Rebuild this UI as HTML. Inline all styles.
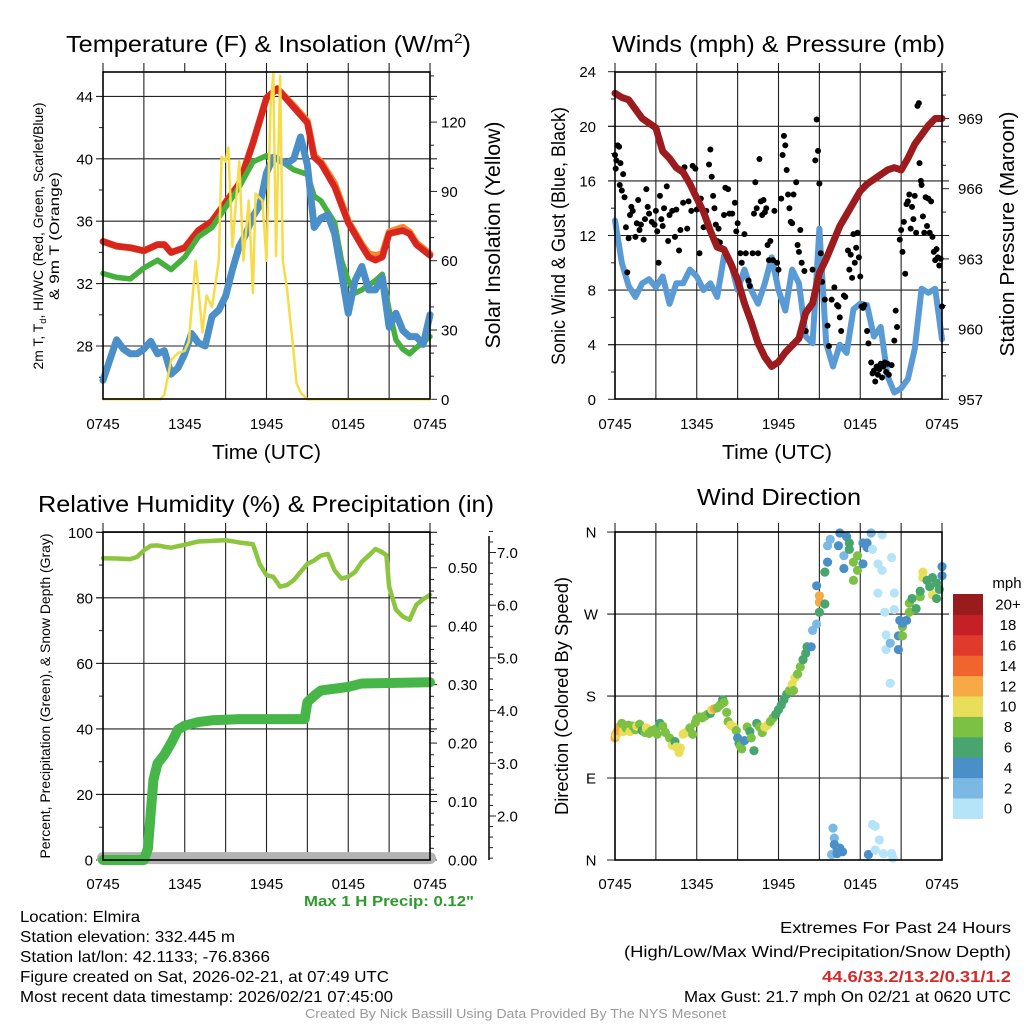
<!DOCTYPE html>
<html><head><meta charset="utf-8"><style>
html,body{margin:0;padding:0;background:#fff;}
svg{display:block;font-family:"Liberation Sans",sans-serif;}
</style></head><body>
<svg id="fig" width="1024" height="1024" viewBox="0 0 1024 1024" xmlns="http://www.w3.org/2000/svg">
<rect width="1024" height="1024" fill="#fff"/>
<g id="layer"></g>
<!-- titles -->
<text x="66" y="52" font-size="23" textLength="405" lengthAdjust="spacingAndGlyphs">Temperature (F) &amp; Insolation (W/m<tspan dy="-9" font-size="14">2</tspan><tspan dy="9">)</tspan></text>
<text x="612" y="52" font-size="23" textLength="333" lengthAdjust="spacingAndGlyphs">Winds (mph) &amp; Pressure (mb)</text>
<text x="38" y="512" font-size="23" textLength="456" lengthAdjust="spacingAndGlyphs">Relative Humidity (%) &amp; Precipitation (in)</text>
<text x="697" y="505" font-size="23" textLength="164" lengthAdjust="spacingAndGlyphs">Wind Direction</text>
<text x="212" y="459" font-size="20" textLength="109" lengthAdjust="spacingAndGlyphs">Time (UTC)</text>
<text x="722" y="459" font-size="20" textLength="110" lengthAdjust="spacingAndGlyphs">Time (UTC)</text>
<!-- y titles -->
<text transform="translate(43,236) rotate(-90)" text-anchor="middle" font-size="13.5" textLength="267" lengthAdjust="spacingAndGlyphs">2m T, T<tspan font-size="9" dy="3">d</tspan><tspan dy="-3">, HI/WC (Red, Green, Scarlet/Blue)</tspan></text>
<text transform="translate(59,236) rotate(-90)" text-anchor="middle" font-size="13.5" textLength="128" lengthAdjust="spacingAndGlyphs">&amp; 9m T (Orange)</text>
<text transform="translate(500,235) rotate(-90)" text-anchor="middle" font-size="21" textLength="227" lengthAdjust="spacingAndGlyphs">Solar Insolation (Yellow)</text>
<text transform="translate(565,236) rotate(-90)" text-anchor="middle" font-size="19" textLength="258" lengthAdjust="spacingAndGlyphs">Sonic Wind &amp; Gust (Blue, Black)</text>
<text transform="translate(1014,234) rotate(-90)" text-anchor="middle" font-size="20" textLength="245" lengthAdjust="spacingAndGlyphs">Station Pressure (Maroon)</text>
<text transform="translate(50,696) rotate(-90)" text-anchor="middle" font-size="14" textLength="325" lengthAdjust="spacingAndGlyphs">Percent, Precipitation (Green), &amp; Snow Depth (Gray)</text>
<text transform="translate(568,696) rotate(-90)" text-anchor="middle" font-size="18" textLength="238" lengthAdjust="spacingAndGlyphs">Direction (Colored By Speed)</text>
<!-- footer -->
<text x="304" y="906" font-size="15" font-weight="bold" fill="#2e9a2e" textLength="170" lengthAdjust="spacingAndGlyphs">Max 1 H Precip: 0.12"</text>
<g font-size="16">
<text x="20" y="922" textLength="120" lengthAdjust="spacingAndGlyphs">Location: Elmira</text>
<text x="20" y="942" textLength="215" lengthAdjust="spacingAndGlyphs">Station elevation: 332.445 m</text>
<text x="20" y="962" textLength="250" lengthAdjust="spacingAndGlyphs">Station lat/lon: 42.1133; -76.8366</text>
<text x="20" y="982" textLength="369" lengthAdjust="spacingAndGlyphs">Figure created on Sat, 2026-02-21, at 07:49 UTC</text>
<text x="20" y="1002" textLength="373" lengthAdjust="spacingAndGlyphs">Most recent data timestamp: 2026/02/21 07:45:00</text>
</g>
<g font-size="16">
<text x="780" y="933" textLength="231" lengthAdjust="spacingAndGlyphs">Extremes For Past 24 Hours</text>
<text x="624" y="957" textLength="387" lengthAdjust="spacingAndGlyphs">(High/Low/Max Wind/Precipitation/Snow Depth)</text>
<text x="822" y="982" font-weight="bold" fill="#d42a2a" textLength="189" lengthAdjust="spacingAndGlyphs">44.6/33.2/13.2/0.31/1.2</text>
<text x="684" y="1002" textLength="327" lengthAdjust="spacingAndGlyphs">Max Gust: 21.7 mph On 02/21 at 0620 UTC</text>
</g>
<text x="305" y="1018" font-size="13" fill="#999" textLength="421" lengthAdjust="spacingAndGlyphs">Created By Nick Bassill Using Data Provided By The NYS Mesonet</text>
</svg>
<script>
// ---------- data ----------
const xTickLabels = ["0745","1345","1945","0145","0745"];
const tempTicks = [28,32,36,40,44];
const insTicks = [0,30,60,90,120];
const tRed = [0,1,2,3,4,4.5,5,6,7,8,8.5,9,10,11,12,12.8,13,14,15,15.5,16,17,18,19,19.5,20,20.5,21,22,22.5,23,24];
const redTemp = [34.7,34.4,34.3,34.1,34.5,34.5,34.0,34.3,35.4,36.0,36.6,37.2,38.4,41.0,43.9,44.5,44.3,43.3,42.3,40.1,39.7,38.2,35.9,34.4,33.7,33.5,33.7,35.2,35.4,35.2,34.5,33.8];
const orangeTemp = [34.7,34.4,34.3,34.1,34.5,34.5,34.0,34.3,35.4,36.0,36.6,37.2,38.4,41.0,43.9,44.5,44.3,43.4,42.4,40.2,39.8,38.4,36.0,34.5,33.9,33.8,33.9,35.3,35.6,35.3,34.6,33.9];
const tGreen = [0,1,2,3,4,5,6,7,8,9,10,11,12,13,14,15,15.5,16,17,17.5,18,18.5,19,20,20.5,21,21.5,22,22.5,23,24];
const greenDew = [32.65,32.4,32.3,33.0,33.5,32.9,33.7,35.0,35.6,36.9,38.2,39.8,40.2,39.9,39.3,39.0,37.6,37.3,35.9,33.5,32.2,31.4,31.6,32.2,32.6,30.3,28.4,27.8,27.5,27.9,28.6];
const blueChill = [25.8,27.1,28.4,27.8,27.5,27.5,27.8,28.3,27.5,27.7,26.2,26.6,27.5,28.8,28.2,28.0,29.9,30.3,31.2,32.9,34.4,35.2,36.3,37.0,39.1,40.1,39.9,39.7,40.0,41.4,39.6,35.6,36.2,36.4,35.2,32.7,30.1,32.2,33.1,31.6,31.6,32.4,29.2,30.1,29.0,28.6,28.6,28.1,30.0];
const tIns = [0,4.2,4.5,5,5.5,6,6.3,6.8,7,7.3,7.6,8,8.5,8.7,9,9.2,9.5,10,10.3,10.7,11,11.2,11.7,12,12.3,12.5,12.7,13,13.2,13.5,14,14.2,14.5,15,24];
const insolation = [0,0,2,17,20,21,25,60,48,29,45,40,60,105,103,109,66,103,60,86,46,89,86,60,127,141,62,140,60,48,20,7,3,0,0];

const windTicks = [0,4,8,12,16,20,24];
const presTicks = [957,960,963,966,969];
const pressure = [970.08,969.9,969.8,969.4,969.0,968.8,968.6,967.6,967.3,966.9,966.7,966.2,965.6,965.0,964.2,963.5,963.4,962.8,962.1,961.1,960.3,959.4,958.8,958.4,958.6,959.0,959.3,959.6,960.7,961.1,962.4,963.0,963.7,964.4,964.9,965.4,965.9,966.2,966.4,966.6,966.8,966.9,966.8,967.3,967.9,968.3,968.7,969.0,969.0];
const windSpeed = [13.1,10.0,8.3,7.5,8.5,8.8,8.2,9.0,7.0,8.5,8.5,9.5,9.0,8.0,8.5,7.5,10.5,10.0,8.0,9.5,8.0,7.0,8.5,10.4,8.0,6.5,9.5,8.5,4.6,4.1,12.5,4.1,2.4,4.0,3.4,6.6,7.0,6.9,4.6,5.3,1.7,0.5,0.8,1.5,3.7,8.1,7.8,8.1,4.4];
const gustT = [0,0.05,0.1,0.2,0.3,0.35,0.4,0.5,0.6,0.7,0.8,0.9,1.0,1.1,1.2,1.3,1.5,1.6,1.7,1.8,1.9,2.1,2.2,2.3,2.4,2.5,2.7,2.9,3.0,3.1,3.2,3.3,3.4,3.5,3.6,3.8,3.9,4.0,4.2,4.4,4.5,4.7,4.8,5.0,5.1,5.3,5.4,5.6,5.7,5.9,6.0,6.2,6.3,6.5,6.7,6.9,7.0,7.1,7.2,7.3,7.4,7.5,7.6,7.7,7.8,8.0,8.1,8.3,8.4,8.6,8.8,8.9,9.0,9.2,9.3,9.5,9.6,9.8,9.9,10.1,10.2,10.3,10.4,10.5,10.6,10.7,10.8,10.9,11.0,11.1,11.2,11.3,11.4,11.6,11.7,11.9,12.0,12.2,12.3,12.4,12.5,12.6,12.7,12.8,12.9,13.0,13.1,13.3,13.4,13.5,13.6,13.7,13.9,14.0,14.1,14.5,14.7,14.8,14.9,15.0,15.1,15.2,15.4,15.6,15.7,15.9,16.1,16.3,16.4,16.5,16.6,16.8,16.9,17.1,17.2,17.3,17.4,17.5,17.6,17.7,17.8,17.9,18.0,18.1,18.2,18.3,18.5,18.6,18.8,18.9,19.0,19.1,19.2,19.3,19.4,19.5,19.6,19.7,19.8,19.9,20.0,20.1,20.3,20.5,20.6,20.7,20.9,21.0,21.1,21.2,21.3,21.4,21.5,21.6,21.7,21.8,21.9,22.0,22.1,22.2,22.3,22.35,22.45,22.5,22.6,22.7,22.8,22.9,23.0,23.1,23.2,23.3,23.4,23.5,23.6,23.7,23.8,23.9,24.0];
const gustV = [17.9,16.9,17.5,18.6,18.5,15.7,17.3,15.3,16.5,14.8,12.6,9.3,11.8,13.5,14.1,13.8,11.9,12.9,14.6,12.4,12.8,11.7,13.2,15.4,14.1,13.6,13.0,12.8,13.8,12.3,10.0,14.9,13.2,12.7,14.0,15.6,11.6,13.5,13.8,11.9,13.9,10.9,12.4,14.4,17.0,12.5,14.5,13.8,17.1,16.9,13.9,10.7,14.7,12.6,13.8,17.2,18.3,16.3,14.9,14.0,12.8,11.6,12.5,11.5,11.1,13.5,15.5,15.4,13.6,13.6,14.4,12.3,12.9,10.7,10.0,12.1,10.7,8.7,8.3,10.7,13.6,15.9,14.0,10.7,17.6,14.5,13.5,14.6,13.7,14.0,11.3,10.2,11.6,10.2,13.8,10.0,9.5,14.7,17.9,19.3,18.6,16.8,15.0,14.0,13.0,12.9,15.0,15.9,11.3,10.8,12.4,10.0,9.4,5.0,6.4,9.5,17.5,20.5,18.2,15.8,10.7,8.6,7.3,5.4,3.9,7.3,8.2,6.9,6.8,6.0,5.0,7.6,7.5,10.9,9.5,10.6,8.9,12.1,10.0,11.1,12.2,10.4,9.0,6.8,6.7,6.9,5.0,4.1,2.7,1.9,2.1,1.3,2.4,1.8,2.2,2.6,1.6,2.4,2.7,2.0,2.6,1.8,2.5,4.3,6.5,5.3,11.7,12.4,10.8,13.0,9.2,14.3,14.5,15.0,12.5,14.1,13.2,14.9,12.2,21.5,21.7,17.3,16.0,15.7,13.4,12.2,14.8,12.7,14.7,12.2,14.5,11.9,10.8,10.2,11.0,10.4,9.8,10.3,6.8];

const pctTicks = [0,20,40,60,80,100];
const precipTicks = ["0.00","0.10","0.20","0.30","0.40","0.50"];
const snowTicks = ["2.0","3.0","4.0","5.0","6.0","7.0"];
const tRH = [0,1,2,2.5,3,3.5,4,4.5,5,6,7,8,9,10,11,11.5,12,12.5,13,13.5,14,14.5,15,15.5,16,16.5,17,17.5,18,18.5,19,19.5,20,20.5,20.8,21,21.5,22,22.5,23,23.5,24];
const relHum = [92.1,92,91.8,92.5,94.5,95.9,96,95.6,95.3,96.2,97.2,97.4,97.6,96.9,96.4,90.3,86.9,86.4,83.4,83.9,85.4,87.9,90.4,91.4,92.9,93.4,88.4,85.9,86.4,87.9,91,92.9,94.9,93.9,93.0,83.4,76.4,74.3,73.3,77.9,79.6,80.9];
const tPrecip = [0,3,3.3,3.5,3.7,4,4.5,5,5.5,6,7,8,9,10,14.8,15,15.5,16,17,18,19,24];
const precip = [0,0,0.02,0.08,0.137,0.165,0.18,0.20,0.223,0.23,0.236,0.239,0.24,0.241,0.241,0.27,0.281,0.29,0.293,0.296,0.302,0.304];
const tSnow = [0,24];
const snowDepth = [1.2,1.2];

const dirLabels = ["N","E","S","W","N"];
const dirT = [0,0.05,0.1,0.2,0.3,0.5,0.6,0.8,1.0,1.1,1.3,1.5,1.6,1.8,2.0,2.2,2.3,2.5,2.7,2.9,3.0,3.1,3.3,3.5,3.7,4.0,4.2,4.4,4.5,4.7,4.8,5.0,5.2,5.4,5.5,5.7,5.9,6.0,6.2,6.4,6.6,6.8,7.0,7.1,7.3,7.5,7.7,7.9,8.0,8.2,8.3,8.5,8.7,8.9,9.0,9.1,9.2,9.3,9.5,9.7,9.9,10.0,10.2,10.4,10.6,10.8,11.0,11.2,11.4,11.6,11.8,12.0,12.2,12.4,12.6,12.8,13.0,13.1,13.2,13.4,13.6,13.8,14.0,14.1,14.1,14.4,14.5,14.8,14.8,15.0,15.0,15.0,15.4,15.4,15.6,15.6,15.8,16.4,16.5,16.8,16.8,17.0,17.2,17.2,17.5,17.5,17.8,17.8,18.2,18.2,18.5,18.5,18.8,18.9,19.3,19.3,19.6,19.6,19.8,19.9,19.9,20.2,20.2,20.3,20.5,20.5,20.8,20.8,20.9,21.1,21.1,21.1,21.4,21.6,21.6,21.8,22.1,22.4,22.4,22.6,22.6,22.9,23.1,23.3,23.3,23.6,23.6,23.8,24.0,24.0,16.0,16.1,16.1,16.3,16.5,16.7,15.9,16.3,18.6,18.9,19.1,19.1,19.4,19.7,20.3,20.4];
const dirD = [134,138,137,142,146,150,141,145,148,141,147,143,147,149,142,140,145,139,142,141,144,138,150,147,140,134,126,130,124,118,123,138,140,142,145,138,151,155,157,156,158,160,161,165,166,167,170,176,173,162,152,148,146,142,134,128,125,122,131,146,141,134,120,150,146,140,146,148,152,156,160,165,170,176,182,186,193,186,200,204,212,220,227,234,234,234,252,259,301,290,283,272,316,281,327,345,352,345,359,334,320,355,348,341,327,307,334,318,348,325,343,348,359,341,325,293,357,318,272,247,231,238,194,332,275,293,231,246,263,256,246,260,263,272,282,287,276,289,295,310,316,307,300,310,291,304,287,297,322,312,35,24,17,11,13,9,6,7,6,39,37,11,22,7,7,2];
const dirS = [12,13,10,12,13,8,10,8,9,10,8,8,10,8,7,8,10,8,9,8,8,8,6,8,8,8,10,6,10,10,10,10,10,10,9,8,8,8,8,8,8,8,7,10,12,9,8,7,8,8,8,10,10,9,5,6,8,8,4,8,7,8,7,6,8,8,10,10,8,8,6,6,6,6,6,8,10,8,10,8,8,6,6,7,7,5,3,3,5,13,13,7,7,7,5,3,3,5,5,3,5,5,7,7,9,9,9,9,5,5,5,5,3,1,1,1,1,1,1,1,1,3,1,1,1,1,5,5,5,9,9,5,5,9,9,7,7,9,7,10,10,7,7,7,10,7,7,7,5,5,3,3,5,5,5,5,3,5,5,1,1,1,1,1,1,1];
const cbLabels = ["0","2","4","6","8","10","12","14","16","18","20+"];
const cbColors = ["#b5e3f7","#7bb9e4","#4a8fc8","#47a56d","#7cc144","#e8de5a","#f6a945","#f0642d","#e03a2c","#c51f28","#981b1e"];

// ---------- helpers ----------
const NS="http://www.w3.org/2000/svg";
const layer=document.getElementById('layer');
function mk(tag,attrs,parent){const e=document.createElementNS(NS,tag);for(const k in attrs)e.setAttribute(k,attrs[k]);(parent||layer).appendChild(e);return e;}
function linePath(ts,vs,fx,fy){return ts.map((t,i)=>(i?'L':'M')+fx(t).toFixed(2)+' '+fy(vs[i]).toFixed(2)).join(' ');}
function halfHours(){const a=[];for(let i=0;i<=48;i++)a.push(i/2);return a;}

function panelFrame(p,name,gridHours){
  const sx=h=>p.x0+h/24*(p.x1-p.x0);
  for(let h=3;h<24;h+=3){
    const gx=sx(h);
    if(gridHours.indexOf(h)>=0){
      const g=mk('line',{x1:gx,y1:p.y0-9,x2:gx,y2:p.y1,stroke:'#222','stroke-width':1.1});
      
      
    } else {
      const g=mk('line',{x1:gx,y1:p.y0-9,x2:gx,y2:p.y0,stroke:'#222','stroke-width':1.1});
      
      
    }
  }
  for(let h=0;h<=24;h+=24){
    const g=mk('line',{x1:sx(h),y1:p.y0-9,x2:sx(h),y2:p.y0,stroke:'#222','stroke-width':1.1});
    
    
  }
  xTickLabels.forEach((lab,i)=>{
    const t=mk('text',{x:sx(i*6),y:p.labY,'font-size':15,'text-anchor':'middle'});
    t.textContent=lab;
    
    
  });
  return sx;
}
function hgrid(p,y,name){
  const g=mk('line',{x1:p.x0-7,y1:y,x2:p.x1+7,y2:y,stroke:'#222','stroke-width':1.1});
  
  
}
function tick(x,y,len,name){
  const g=mk('line',{x1:x,y1:y,x2:x+len,y2:y,stroke:'#222','stroke-width':1});
  
  
}
function label(x,y,str,anchor,name,size){
  const t=mk('text',{x:x,y:y,'font-size':size||15,'text-anchor':anchor});
  t.textContent=str;
  
  
}
function box(p,name){
  const b=mk('rect',{x:p.x0,y:p.y0,width:p.x1-p.x0,height:p.y1-p.y0,fill:'none',stroke:'#000','stroke-width':1.6});
  
  
}
function series(d,color,w,name,cap){
  const s=mk('path',{d:d,fill:'none',stroke:color,'stroke-width':w,'stroke-linejoin':'round','stroke-linecap':cap||'round'});
  
  
}

// ---------- Panel 1: temperature ----------
(function(){
  const p={x0:103,x1:430,y0:72,y1:399,labY:429};
  const sx=panelFrame(p,'temp',[3,9,12,15,18,21]);
  const yT=v=>346-(v-28)*15.6;
  const yI=v=>399.3-v*2.31;
  tempTicks.forEach(v=>{hgrid(p,yT(v),'temp');label(93,yT(v)+5.5,String(v),'end','temp-y-tick-label');});
  for(let v=26;v<=45;v+=2){ if(v%4) tick(p.x0,yT(v),-4,'temp-minor-tick'); }
  insTicks.forEach(v=>{tick(p.x1,yI(v),7,'insolation-tick');label(441,yI(v)+5.5,String(v),'start','insolation-tick-label');});
  for(let v=10;v<=140;v+=10){ if(v%30) tick(p.x1,yI(v),4,'insolation-minor-tick'); }
  series(linePath(tRed,orangeTemp,sx,yT),'#f5872e',7,'series-9m-temp-orange');
  series(linePath(tRed,redTemp,sx,yT),'#d8261f',6.5,'series-2m-temp-red');
  series(linePath(tGreen,greenDew,sx,yT),'#46b03f',5.5,'series-dewpoint-green');
  series(linePath(halfHours(),blueChill,sx,yT),'#4a8fc8',7,'series-windchill-blue');
  series(linePath(tIns,insolation,sx,yI),'#f7dc4a',2.5,'series-insolation-yellow');
  box(p,'temp');
})();

// ---------- Panel 2: wind & pressure ----------
(function(){
  const p={x0:615,x1:942,y0:72,y1:399,labY:429};
  const sx=panelFrame(p,'wind',[3,6,9,12,15,18,21]);
  const yW=w=>399.3-w*13.65;
  const yP=v=>399.3-(v-957)*23.4;
  windTicks.forEach(v=>{ if(v>0&&v<24) hgrid(p,yW(v),'wind'); tick(p.x0,yW(v),-7,'wind-tick'); label(596,yW(v)+5.5,String(v),'end','wind-y-tick-label');});
  for(let v=2;v<24;v+=4) tick(p.x0,yW(v),-4,'wind-minor-tick');
  presTicks.forEach(v=>{tick(p.x1,yP(v),7,'pressure-tick');label(958,yP(v)+5.5,String(v),'start','pressure-tick-label');});
  for(let v=958;v<=971;v++){ if((v-957)%3) tick(p.x1,yP(v),4,'pressure-minor-tick'); }
  series(linePath(halfHours(),windSpeed,sx,yW),'#5b9bd5',6,'series-sonic-wind-blue');
  gustT.forEach((t,i)=>{
    const c=mk('circle',{cx:sx(t),cy:yW(gustV[i]),r:3,fill:'#000'});
    
    
  });
  series(linePath(halfHours(),pressure,sx,yP),'#9b1b1e',7,'series-pressure-maroon');
  box(p,'wind');
})();

// ---------- Panel 3: RH & precip ----------
(function(){
  const p={x0:103,x1:430,y0:532,y1:860,labY:889};
  const sx=panelFrame(p,'rh',[3,6,9,12,15,18,21]);
  const yRH=v=>860-v*3.277;
  const yPr=v=>860-v*584.6;
  const ySn=v=>816-(v-2)*52.7;
  pctTicks.forEach(v=>{ if(v>0) hgrid(p,yRH(v),'rh'); tick(p.x0,yRH(v),-7,'rh-tick'); label(93,yRH(v)+5.5,String(v),'end','rh-y-tick-label');});
  for(let v=10;v<100;v+=20) tick(p.x0,yRH(v),-4,'rh-minor-tick');
  precipTicks.forEach(s=>{const v=parseFloat(s);tick(p.x1,yPr(v),7,'precip-tick');label(448,yPr(v)+5.5,s,'start','precip-tick-label');});
  for(let v=0.02;v<0.56;v+=0.02){ if(Math.round(v*100)%10) tick(p.x1,yPr(v),4,'precip-minor-tick'); }
  const ax=mk('line',{x1:489,y1:536,x2:489,y2:860,stroke:'#000','stroke-width':1.5});
  
  
  snowTicks.forEach(s=>{const v=parseFloat(s);tick(489,ySn(v),7,'snow-tick');label(497,ySn(v)+5.5,s,'start','snow-tick-label');});
  for(let v=1.2;v<7.5;v+=0.2){ if(Math.abs(v-Math.round(v))>0.05) tick(489,ySn(v),4,'snow-minor-tick'); }
  series(linePath(tRH,relHum,sx,yRH),'#8cc63f',4.5,'series-relative-humidity');
  series(linePath(tSnow,snowDepth,sx,ySn),'#b3b3b3',12,'series-snow-depth');
  series(linePath(tPrecip,precip,sx,yPr),'#46b649',10,'series-precipitation');
  box(p,'rh');
})();

// ---------- Panel 4: wind direction ----------
(function(){
  const p={x0:615,x1:942,y0:532,y1:860,labY:889};
  const sx=panelFrame(p,'dir',[3,6,9,12,15,18,21]);
  const yD=d=>860-d*0.911;
  dirLabels.forEach((s,i)=>{ const y=yD(i*90); if(i>0&&i<4) hgrid(p,y,'dir'); tick(p.x0,y,-8,'dir-tick'); label(591,y+5.5,s,'middle','dir-y-tick-label');});
  function col(s){let k=Math.floor(s/2); if(k>10)k=10; return cbColors[k];}
  dirT.forEach((t,i)=>{
    const c=mk('circle',{cx:sx(t),cy:yD(dirD[i]),r:4.6,fill:col(dirS[i])});
    
    
  });
  box(p,'dir');
  const top=594,bh=20.4;
  cbColors.forEach((c,i)=>{
    const r=mk('rect',{x:953,y:top+(10-i)*bh,width:30,height:bh+0.5,fill:c});
    
    
    label(1008,top+(10-i)*bh+bh/2+5.5,cbLabels[i],'middle','colorbar-label');
  });
  label(1007,588,'mph','middle','colorbar-title');
})();
</script>
</body></html>
